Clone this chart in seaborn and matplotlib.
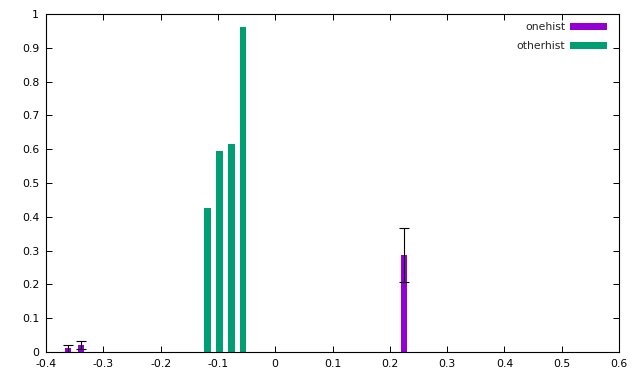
import matplotlib
matplotlib.use("Agg")
import matplotlib.pyplot as plt
import seaborn as sns
import pandas as pd
from matplotlib.patches import Patch
from matplotlib.ticker import FuncFormatter

# data
one_x = [-0.361, -0.339, 0.2253]
one_y = [0.011, 0.022, 0.287]
one_err = [0.010, 0.012, 0.081]

other_x = [-0.1177, -0.0972, -0.0767, -0.0562]
other_y = [0.425, 0.595, 0.615, 0.962]

x_ticks = [-0.4, -0.3, -0.2, -0.1, 0, 0.1, 0.2, 0.3, 0.4, 0.5, 0.6]
y_ticks = [0, 0.1, 0.2, 0.3, 0.4, 0.5, 0.6, 0.7, 0.8, 0.9, 1]

sns.set_theme(style="ticks")
plt.rcParams["font.family"] = ["DejaVu Sans"]
plt.rcParams["axes.unicode_minus"] = False

PURPLE = "#9400D3"
GREEN = "#009E73"

fig = plt.figure(figsize=(6.4, 3.84), dpi=100)
ax = fig.add_axes([46 / 640, 32 / 384, (619 - 46) / 640, (352 - 14) / 384])

df1 = pd.DataFrame({"x": one_x, "y": one_y})
df2 = pd.DataFrame({"x": other_x, "y": other_y})

sns.barplot(data=df1, x="x", y="y", native_scale=True, errorbar=None,
            color=PURPLE, saturation=1, width=0.5, linewidth=0, ax=ax)
sns.barplot(data=df2, x="x", y="y", native_scale=True, errorbar=None,
            color=GREEN, saturation=1, width=0.56, linewidth=0, ax=ax)
ax.errorbar(one_x, one_y, yerr=one_err, fmt="none", ecolor="black",
            elinewidth=0.8, capsize=3.5, capthick=0.8)

ax.set_xlim(-0.4, 0.6)
ax.set_ylim(0, 1)
ax.set_xticks(x_ticks)
ax.set_yticks(y_ticks)
fmt = FuncFormatter(lambda v, p: "%g" % round(v, 3))
ax.xaxis.set_major_formatter(fmt)
ax.yaxis.set_major_formatter(fmt)
ax.set_xlabel("")
ax.set_ylabel("")
ax.tick_params(direction="in", length=4.5, width=0.7, top=True, right=True,
               labelsize=7.8, colors="black", pad=5)
for s in ax.spines.values():
    s.set_visible(True)
    s.set_linewidth(0.8)
    s.set_color("black")
ax.grid(False)

handles = [Patch(facecolor=PURPLE, edgecolor="none", label="onehist"),
           Patch(facecolor=GREEN, edgecolor="none", label="otherhist")]
ax.legend(handles=handles, loc="upper right", frameon=False, markerfirst=False,
          fontsize=7.8, handlelength=3.4, handleheight=0.6, handletextpad=0.45,
          labelspacing=0.8, borderpad=0, borderaxespad=0,
          bbox_to_anchor=(0.979, 0.975))

fig.savefig("out.png", dpi=100)
